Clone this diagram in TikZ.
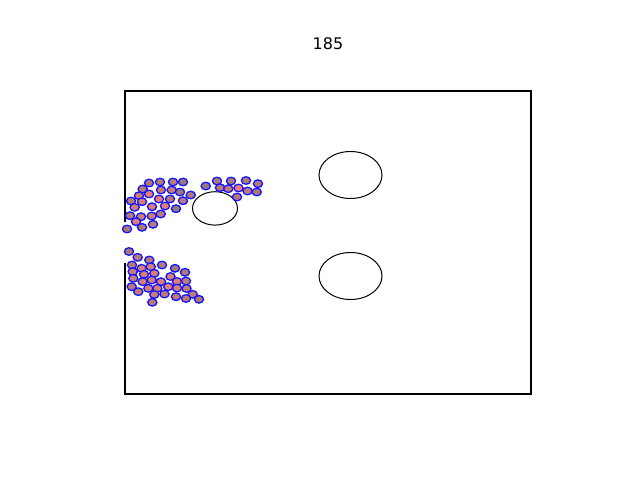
\documentclass[tikz,border=0pt]{standalone}
\usepackage{fontspec}
\setmainfont{DejaVu Sans}
\definecolor{ptsalmon}{RGB}{250,128,114}
\definecolor{ptgray}{RGB}{140,120,120}
\definecolor{ptedge}{RGB}{20,20,255}
\tikzset{
  wall/.style={line width=1.5pt, black},
  obstacle/.style={line width=1pt, black},
  particle/.style={line width=1.3pt, draw=ptedge}
}
\begin{document}
\begin{tikzpicture}[x=1pt,y=-1pt]
  \useasboundingbox (0,0) rectangle (640,480);
  % Titel
  \node (title) at (328,44) {\fontsize{16}{19}\selectfont 185};
  % Kanal mit Einlass links
  \coordinate (gapTop) at (125,222);
  \coordinate (gapBot) at (125,263);
  \draw [wall] (gapTop) -- (125,91) -- (531,91) -- (531,394) -- (125,394) -- (gapBot);
  % Hindernisse
  \draw [obstacle] (215,208.4) ellipse [x radius=22.5, y radius=16.7];
  \draw [obstacle] (350.5,175) ellipse [x radius=31.5, y radius=23.5];
  \draw [obstacle] (350.5,276) ellipse [x radius=31.5, y radius=23.5];
  % Partikel: x, y, Anteil salmon
  \foreach \px/\py/\mix in {
    149/183/30, 160/182/30, 173/182/40, 183/182/10,
    142.7/189/40, 161/190/50, 171.7/190/50, 180/192/20, 190.7/195/30,
    139/195.7/60, 149/194/80, 131/201/40, 142/201.7/70, 159/199/80,
    170/199/40, 183/200.7/40, 134.7/207.3/70, 152/206.7/70, 165/206/80,
    176/208.7/10, 130/215.7/40, 141/216.7/60, 151.7/216/60, 160.7/214/40,
    136/221.7/70, 153/224.3/40, 142/227.3/30, 127/229/20,
    205.7/186/10, 217/181/30, 231/181/30, 246/180.5/30, 258/183.7/30,
    220/187.7/40, 228.3/188.7/50, 238.5/188/90, 247.5/191/50,
    256.7/192/30, 237/197/40,
    129/251.5/25, 137.7/257.3/40, 149.3/260/40, 162/265/30, 132/265/40,
    141.7/268.3/70, 150.7/266.7/70, 175/268.3/20, 185/272.3/30,
    132.7/271.7/60, 144/274.3/70, 154.3/273.3/70, 170.5/276.5/70,
    133.3/278.3/50, 142.7/281.7/70, 151.7/280/70, 161/281.7/70,
    177/281.5/80, 186/281/50, 131.7/286.7/40, 148.3/288.3/70,
    157.3/288.3/70, 168.3/286.7/80, 177/288/70, 186.5/288.5/50,
    138.3/291.7/50, 154.3/294.5/60, 164.5/294/40, 176/296.7/50,
    192.7/294.3/50, 186/298.5/40, 199/299.3/30, 152.3/302.3/40}
  {
    \filldraw [particle, fill=ptsalmon!\mix!ptgray] (\px,\py) ellipse [x radius=4.6, y radius=3.8];
  }
\end{tikzpicture}
\end{document}
